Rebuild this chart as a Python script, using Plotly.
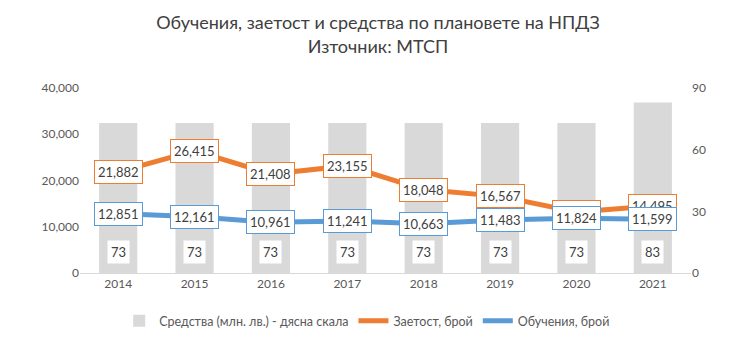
import plotly.graph_objects as go

years = ["2014", "2015", "2016", "2017", "2018", "2019", "2020", "2021"]
funds = [73, 73, 73, 73, 73, 73, 73, 83]
employment = [21882, 26415, 21408, 23155, 18048, 16567, 13200, 14495]
trainings = [12851, 12161, 10961, 11241, 10663, 11483, 11824, 11599]

name_funds = "Средства (млн. лв.) - дясна скала"
name_emp = "Заетост, брой"
name_tr = "Обучения, брой"

ORANGE = "#ED7D31"
BLUE = "#5B9BD5"
GRAY = "#D9D9D9"
TXT = "#404040"
AX = "#595959"
FONT = "Lato, Open Sans, sans-serif"

fig = go.Figure()
fig.add_trace(go.Bar(x=years, y=funds, name=name_funds, marker=dict(color=GRAY, line=dict(width=0)),
                     yaxis="y2", hoverinfo="skip"))
fig.add_trace(go.Scatter(x=years, y=employment, name=name_emp, mode="lines",
                         line=dict(color=ORANGE, width=5)))
fig.add_trace(go.Scatter(x=years, y=trainings, name=name_tr, mode="lines",
                         line=dict(color=BLUE, width=5)))

ann = []
for i, v in enumerate(funds):
    ann.append(dict(x=i, y=0, xref="x", yref="y2", text=str(v), showarrow=False,
                    yanchor="bottom", yshift=9, bgcolor="white", borderpad=3,
                    font=dict(size=13, color=TXT, family=FONT)))
for i, v in enumerate(employment):
    ann.append(dict(x=i, y=v, xref="x", yref="y", text=f"{v:,}", showarrow=False,
                    bgcolor="white", bordercolor=ORANGE, borderwidth=1, borderpad=3,
                    font=dict(size=13, color=TXT, family=FONT)))
for i, v in enumerate(trainings):
    ann.append(dict(x=i, y=v, xref="x", yref="y", text=f"{v:,}", showarrow=False,
                    bgcolor="white", bordercolor=BLUE, borderwidth=1, borderpad=3,
                    font=dict(size=13, color=TXT, family=FONT)))

fig.update_layout(
    width=740, height=356,
    margin=dict(l=72, r=57, t=80, b=91),
    paper_bgcolor="white", plot_bgcolor="white",
    font=dict(family=FONT, color=AX, size=12),
    title=dict(text="Обучения, заетост и средства по плановете на НПДЗ<br>Източник: МТСП",
               x=0.5, xanchor="center", y=0.94, yanchor="top",
               font=dict(size=18, color=TXT, family=FONT)),
    bargap=0.5,
    showlegend=True,
    legend=dict(orientation="h", x=0.47, xanchor="center", y=-0.26, yanchor="middle",
                font=dict(size=12.5, color=AX, family=FONT), traceorder="normal",
                itemwidth=30),
    xaxis=dict(type="category", range=[-0.5, 7.5], showgrid=False, showline=True,
               linecolor="#D9D9D9", linewidth=1, ticks="", tickfont=dict(size=12, color=AX)),
    yaxis=dict(range=[0, 40000], tickvals=[0, 10000, 20000, 30000, 40000], tickformat=",",
               showgrid=False, zeroline=False, showline=False, tickfont=dict(size=12, color=AX)),
    yaxis2=dict(range=[0, 90], tickvals=[0, 30, 60, 90], overlaying="y", side="right",
                showgrid=False, zeroline=False, showline=False, tickfont=dict(size=12, color=AX)),
    annotations=ann,
)

fig.write_html("out.html")
